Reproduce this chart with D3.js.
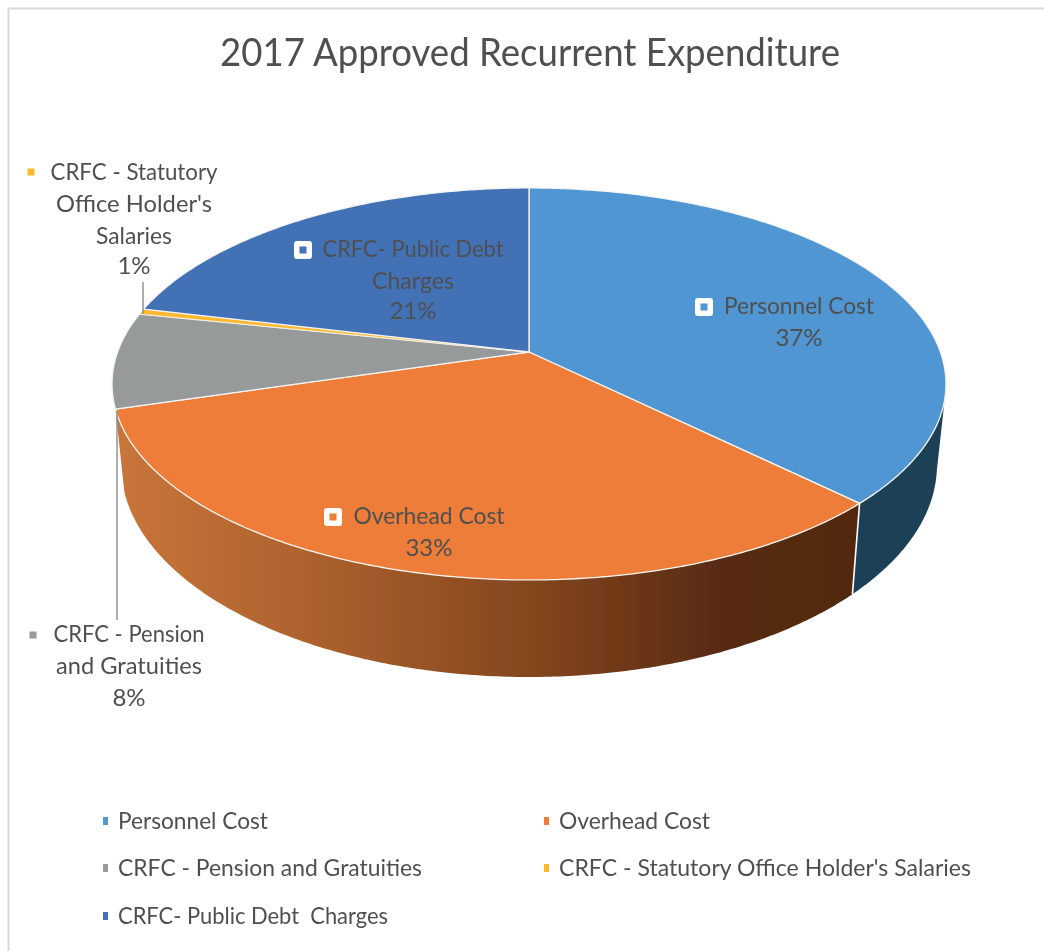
<!DOCTYPE html>
<html><head><meta charset="utf-8"><style>html,body{margin:0;padding:0;background:#fff}svg{display:block}</style>
<script src="https://cdn.jsdelivr.net/npm/d3@7"></script></head><body><svg id="c" width="1044" height="951"></svg>
<script>
const categories=["Personnel Cost","Overhead Cost","CRFC - Pension and Gratuities","CRFC - Statutory Office Holder's Salaries","CRFC- Public Debt  Charges"];
const values=[37.4,33.0,7.9,0.45,21.25];
const percentLabels=["37%","33%","8%","1%","21%"];
const colors=["#5096d2","#ed7d37","#969a9b","#fdb92d","#4371b5"];
const title="2017 Approved Recurrent Expenditure";
const FONT="Lato, 'Open Sans', sans-serif";
const TXT="#505050";
const svg=d3.select("#c");
const defs=svg.append("defs");
const grad=defs.append("linearGradient").attr("id","og").attr("gradientUnits","userSpaceOnUse").attr("x1",118).attr("x2",860).attr("y1",0).attr("y2",0);
[[0,"#c8753a"],[.25,"#ae622e"],[.55,"#85471f"],[.8,"#5a2c12"],[1,"#512810"]].forEach(s=>grad.append("stop").attr("offset",s[0]).attr("stop-color",s[1]));
defs.append("filter").attr("id","soft").append("feGaussianBlur").attr("stdDeviation",0.55);
const root=svg.append("g").attr("filter","url(#soft)");
root.append("path").attr("d","M8.5,951V8.5H1044").attr("fill","none").attr("stroke","#d9d9d9").attr("stroke-width",2);
root.append("text").text(title).attr("x",530).attr("y",66).attr("text-anchor","middle").attr("font-family",FONT).attr("font-size",38).attr("fill",TXT).attr("textLength",620).attr("lengthAdjust","spacingAndGlyphs");

const k=.163;
const topDisc={cx:529,cy:352,a:411.4,b:190.8};
const botDisc={cx:529,cy:430.4,a:402.5,b:206.4};
function proj(d,t){const u=Math.sin(t),v=-Math.cos(t),w=1-k*v;return [d.cx+d.a*u/w,d.cy+d.b*v/w];}
function arcPts(d,t0,t1){const n=Math.max(2,Math.ceil(Math.abs(t1-t0)/0.01));return d3.range(n+1).map(i=>proj(d,t0+(t1-t0)*i/n));}
const line=d3.line();
const arcs=d3.pie().sort(null).value(v=>v)(values);
function wall(t0,t1,fill){root.append("path").attr("d",line(arcPts(topDisc,t0,t1).concat(arcPts(botDisc,t1,t0)))+"Z").attr("fill",fill);}
wall(1.76,arcs[0].endAngle,"#1b3f57");
wall(arcs[1].startAngle,arcs[1].endAngle,"url(#og)");
root.append("path").attr("d",line([proj(topDisc,arcs[1].startAngle),proj(botDisc,arcs[1].startAngle)])).attr("stroke","#fff").attr("stroke-width",1.6).attr("fill","none");
arcs.forEach((a,i)=>{root.append("path").attr("d",line([[topDisc.cx,topDisc.cy]].concat(arcPts(topDisc,a.startAngle,a.endAngle)))+"Z").attr("fill",colors[i]).attr("stroke","#f4f4f4").attr("stroke-width",i===3?0.7:1.3).attr("stroke-linejoin","round");});
root.append("path").attr("d",line([[143,282],[143,314]])).attr("stroke","#8c8c8c").attr("stroke-width",1.4);
root.append("path").attr("d",line([[117,411],[117,620]])).attr("stroke","#8c8c8c").attr("stroke-width",1.4);
const lbl=[
 {cx:799,y:[314,346],lines:[categories[0]],mx:704,my:307,mc:colors[0],big:1},
 {cx:429,y:[524,556],lines:[categories[1]],mx:333,my:517,mc:colors[1],big:1},
 {cx:129,y:[642,674,706],lines:["CRFC - Pension","and Gratuities"],mx:33,my:635,mc:colors[2]},
 {cx:134,y:[180,212,244,274],lines:["CRFC - Statutory","Office Holder's","Salaries"],mx:31,my:172,mc:colors[3]},
 {cx:413,y:[257,289,319],lines:["CRFC- Public Debt","Charges"],mx:303,my:250,mc:colors[4],big:1}];
const lens={"Personnel Cost":150,"Overhead Cost":151,"CRFC - Pension":151,"and Gratuities":146,"CRFC - Statutory":167,"Office Holder's":156,"Salaries":76,"CRFC- Public Debt":181,"Charges":82};
lbl.forEach((l,i)=>{
 l.lines.concat([percentLabels[i]]).forEach((s,j)=>{
  const t=root.append("text").text(s).attr("x",l.cx).attr("y",l.y[j]).attr("text-anchor","middle").attr("font-family",FONT).attr("font-size",24).attr("fill",TXT);
  if(lens[s])t.attr("textLength",lens[s]).attr("lengthAdjust","spacingAndGlyphs");
 });
 if(l.big){root.append("rect").attr("x",l.mx-9).attr("y",l.my-9).attr("width",18).attr("height",18).attr("rx",3).attr("fill","#fff");
  root.append("rect").attr("x",l.mx-3.5).attr("y",l.my-3.5).attr("width",7).attr("height",7).attr("fill",l.mc);}
 else root.append("rect").attr("x",l.mx-3.5).attr("y",l.my-3.5).attr("width",7).attr("height",7).attr("fill",l.mc);
});
const legPos=[[103,829],[544,829],[103,876],[544,876],[103,924]];
const legLen=[150,151,304,412,270];
categories.forEach((c,i)=>{const [x,y]=legPos[i];
 root.append("rect").attr("x",x).attr("y",y-12).attr("width",5).attr("height",8).attr("fill",colors[i]);
 root.append("text").text(c).attr("x",x+15).attr("y",y).attr("font-family",FONT).attr("font-size",24).attr("fill",TXT).attr("xml:space","preserve").attr("textLength",legLen[i]).attr("lengthAdjust","spacingAndGlyphs");
});
</script></body></html>
